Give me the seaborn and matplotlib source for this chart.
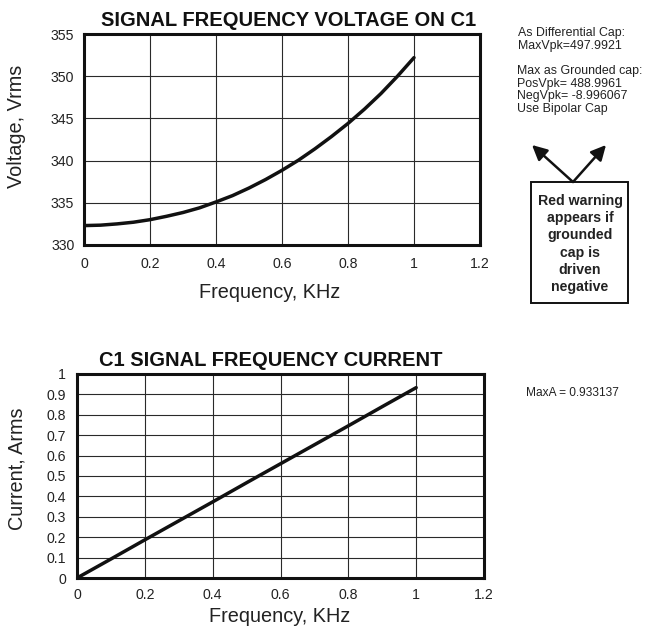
import matplotlib
matplotlib.use("Agg")
import matplotlib.pyplot as plt
from matplotlib.patches import FancyArrowPatch, Rectangle
import pandas as pd
import seaborn as sns

# Signal-frequency response of capacitor C1
freq_v = [0.0, 0.05, 0.1, 0.15, 0.2, 0.25, 0.3, 0.35, 0.4, 0.45, 0.5,
          0.55, 0.6, 0.65, 0.7, 0.75, 0.8, 0.85, 0.9, 0.95, 1.0]
voltage = [332.3, 332.35, 332.5, 332.7, 333.0, 333.4, 333.85, 334.4, 335.1, 335.85, 336.75,
           337.75, 338.85, 340.05, 341.4, 342.85, 344.4, 346.1, 347.95, 350.0, 352.2]

freq_i = [0.0, 0.1, 0.2, 0.3, 0.4, 0.5, 0.6, 0.7, 0.8, 0.9, 1.0]
current = [0.0, 0.093, 0.187, 0.28, 0.373, 0.467, 0.56, 0.653, 0.746, 0.84, 0.933137]

x_ticks = [0, 0.2, 0.4, 0.6, 0.8, 1.0, 1.2]
x_tick_labels = ["0", "0.2", "0.4", "0.6", "0.8", "1", "1.2"]
v_ticks = [330, 335, 340, 345, 350, 355]
i_ticks = [0, 0.1, 0.2, 0.3, 0.4, 0.5, 0.6, 0.7, 0.8, 0.9, 1.0]
i_tick_labels = ["0", "0.1", "0.2", "0.3", "0.4", "0.5", "0.6", "0.7", "0.8", "0.9", "1"]

cap_notes = ["As Differential Cap:", "MaxVpk=497.9921"]
grounded_notes = ["Max as Grounded cap:", "PosVpk= 488.9961", "NegVpk= -8.996067", "Use Bipolar Cap"]
warning_text = "Red warning\nappears if\ngrounded\ncap is\ndriven\nnegative"
max_current_text = "MaxA = 0.933137"

sns.set_theme(style="white")
plt.rcParams["font.family"] = ["Liberation Sans", "DejaVu Sans"]

W, H = 645, 630
fig = plt.figure(figsize=(W / 100, H / 100), dpi=100)


def px(x, y):
    """Pixel position (from top-left) to figure fraction."""
    return x / W, 1 - y / H


def axes_box(left, top, right, bottom):
    return [left / W, 1 - bottom / H, (right - left) / W, (bottom - top) / H]


ax1 = fig.add_axes(axes_box(84, 34, 480, 245))
ax2 = fig.add_axes(axes_box(77, 374, 484, 578))

df_v = pd.DataFrame({"f": freq_v, "v": voltage})
df_i = pd.DataFrame({"f": freq_i, "i": current})

sns.lineplot(data=df_v, x="f", y="v", ax=ax1, color="#111111", linewidth=2.5)
sns.lineplot(data=df_i, x="f", y="i", ax=ax2, color="#111111", linewidth=2.5)

TEXT = "#222222"


def style_axes(ax, yticks, ylabels, ylim, title, ylabel,
               title_xy, xlabel_xy, ylabel_xy, xpad, ypad):
    ax.set_xlim(0, 1.2)
    ax.set_ylim(*ylim)
    ax.set_xticks(x_ticks)
    ax.set_xticklabels(x_tick_labels)
    ax.set_yticks(yticks)
    ax.set_yticklabels(ylabels)
    ax.tick_params(axis="both", length=0, labelsize=10.2, colors=TEXT)
    ax.tick_params(axis="x", pad=xpad)
    ax.tick_params(axis="y", pad=ypad)
    ax.grid(True, color="#2a2a2a", linewidth=0.8)
    ax.set_axisbelow(True)
    for s in ax.spines.values():
        s.set_visible(True)
        s.set_color("#111111")
        s.set_linewidth(2.2)
    # chart heading
    fig.text(*px(*title_xy), title, fontsize=14.5, fontweight="bold", color="#111111",
             ha="center", va="center")
    ax.set_xlabel("Frequency, KHz", fontsize=14.3, color=TEXT)
    ax.xaxis.set_label_coords(*px(*xlabel_xy), transform=fig.transFigure)
    ax.xaxis.label.set_va("center")
    ax.set_ylabel(ylabel, fontsize=14.3, color=TEXT)
    ax.yaxis.set_label_coords(*px(*ylabel_xy), transform=fig.transFigure)
    ax.yaxis.label.set_va("center")


style_axes(ax1, v_ticks, [str(t) for t in v_ticks], (330, 355),
           "SIGNAL FREQUENCY VOLTAGE ON C1", "Voltage, Vrms",
           (289, 20), (270, 293), (17, 126), 9, 7)
style_axes(ax2, i_ticks, i_tick_labels, (0, 1.0),
           "C1 SIGNAL FREQUENCY CURRENT", "Current, Arms",
           (271, 361), (280, 617), (17, 469), 7.5, 8)

# Capacitor rating notes
for k, line in enumerate(cap_notes):
    fig.text(*px(518, 33 + 13 * k), line, fontsize=8.9, color=TEXT, va="center")
for k, line in enumerate(grounded_notes):
    fig.text(*px(517, 71 + 12.7 * k), line, fontsize=8.9, color=TEXT, va="center")

# Warning box with arrows pointing at the notes
x0, y0 = px(531, 303)
x1, y1 = px(628, 182)
fig.add_artist(Rectangle((x0, y0), x1 - x0, y1 - y0, transform=fig.transFigure,
                         facecolor="white", edgecolor="#111111", linewidth=1.4))
fig.text(*px(580, 244), warning_text, fontsize=10.2, fontweight="bold", color=TEXT,
         ha="center", va="center", linespacing=1.28)
for tip in [(532, 145), (606, 145)]:
    fig.add_artist(FancyArrowPatch(
        px(573, 182), px(*tip), transform=fig.transFigure,
        arrowstyle="-|>,head_length=9,head_width=4.5", color="#111111", linewidth=1.8,
        shrinkA=0, shrinkB=0))

fig.text(*px(526, 393), max_current_text, fontsize=8.6, color=TEXT, va="center")

fig.savefig("out.png", dpi=100, facecolor="white")
